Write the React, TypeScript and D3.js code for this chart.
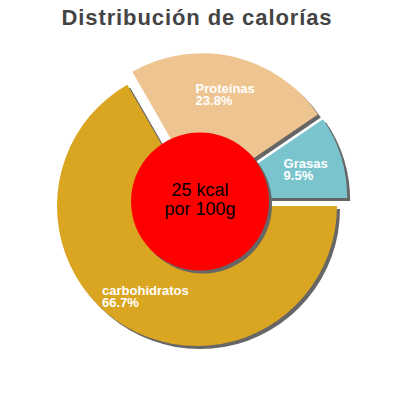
import React from "react";
import * as d3 from "d3";

const categories = ["carbohidratos", "Proteínas", "Grasas"];
const values = [66.7, 23.8, 9.5];
const percentLabels = ["66.7%", "23.8%", "9.5%"];
const colors = ["#DAA520", "#EEC591", "#7AC5CD"];
const title = "Distribución de calorías";
const centerLines = ["25 kcal", "por 100g"];

const W = 400;
const H = 400;
const CX = 200.5;
const CY = 200;
const R = 140;
const EXPLODE = 7;
const SHADOW = 3;
const LABEL_FONT = "bold 13px 'Liberation Sans', Arial, sans-serif";

let measureCtx: CanvasRenderingContext2D | null = null;
function textWidth(s: string): number {
  if (!measureCtx) {
    const c = document.createElement("canvas");
    measureCtx = c.getContext("2d");
  }
  if (!measureCtx) return s.length * 7;
  measureCtx.font = LABEL_FONT;
  return measureCtx.measureText(s).width;
}

export default function App() {
  const data = categories.map((c, i) => ({ name: c, value: values[i], pct: percentLabels[i], color: colors[i] }));
  const pie = d3
    .pie<any>()
    .sort(null)
    .value((d: any) => d.value)
    .startAngle(Math.PI / 2)
    .endAngle(Math.PI / 2 + 2 * Math.PI);
  const arcs = pie(data);
  const arc = d3.arc<any>().innerRadius(0).outerRadius(R);
  const labelArc = d3.arc<any>().innerRadius(66).outerRadius(R);

  const slices = arcs.map((a) => {
    const mid = (a.startAngle + a.endAngle) / 2;
    const dx = Math.sin(mid) * EXPLODE;
    const dy = -Math.cos(mid) * EXPLODE;
    return { a, dx, dy, path: arc(a) as string, centroid: labelArc.centroid(a) };
  });

  return (
    <svg
      width={W}
      height={H}
      viewBox={`0 0 ${W} ${H}`}
      style={{ position: "absolute", left: 0, top: 0, background: "#fff" }}
    >
      <rect x={0} y={0} width={W} height={H} fill="#fff" />
      <text
        x={197}
        y={25}
        textAnchor="middle"
        fontFamily="'Liberation Sans', Arial, sans-serif"
        fontWeight="bold"
        fontSize={22}
        letterSpacing={0.9}
        fill="#444"
      >
        {title}
      </text>
      <g transform={`translate(${CX},${CY})`}>
        {slices.map((s, i) => (
          <path
            key={"sh" + i}
            d={s.path}
            transform={`translate(${s.dx + SHADOW},${s.dy + SHADOW})`}
            fill="#666"
          />
        ))}
        {slices.map((s, i) => (
          <path key={"sl" + i} d={s.path} transform={`translate(${s.dx},${s.dy})`} fill={s.a.data.color} />
        ))}
        {slices.map((s, i) => {
          const w = Math.max(textWidth(s.a.data.name), textWidth(s.a.data.pct));
          const x = s.dx + s.centroid[0] - w / 2;
          const y = s.dy + s.centroid[1];
          return (
            <text
              key={"lb" + i}
              fontFamily="'Liberation Sans', Arial, sans-serif"
              fontWeight="bold"
              fontSize={13}
              fill="#fff"
            >
              <tspan x={x} y={y}>
                {s.a.data.name}
              </tspan>
              <tspan x={x} y={y + 12}>
                {s.a.data.pct}
              </tspan>
            </text>
          );
        })}
      </g>
      <circle cx={200 + SHADOW} cy={201.5 + SHADOW} r={69} fill="#666" />
      <circle cx={200} cy={201.5} r={69} fill="#FF0000" />
      <text
        textAnchor="middle"
        fontFamily="'Liberation Sans', Arial, sans-serif"
        fontSize={18}
        fill="#000"
      >
        <tspan x={200} y={196}>
          {centerLines[0]}
        </tspan>
        <tspan x={200} y={215}>
          {centerLines[1]}
        </tspan>
      </text>
    </svg>
  );
}
